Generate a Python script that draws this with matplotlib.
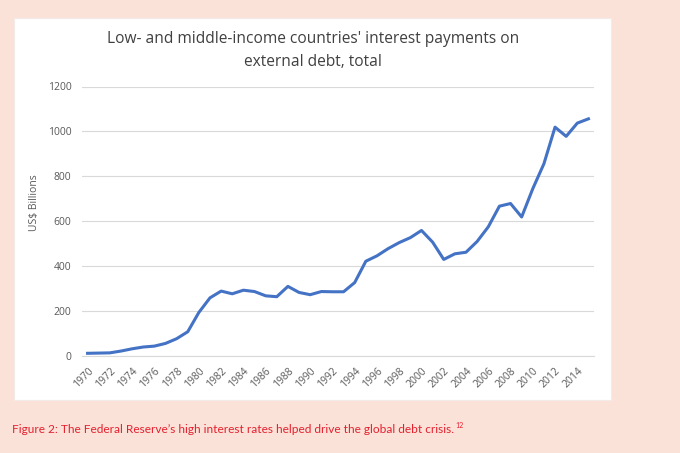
import matplotlib.pyplot as plt
from matplotlib.patches import Rectangle

# Datos (miles de millones de US$)
anios = list(range(1970, 2016))
pagos = [12, 13, 14, 22, 32, 40, 44, 56, 77, 108,
         194, 259, 289, 277, 293, 287, 268, 264, 310, 283,
         273, 287, 286, 286, 327, 422, 446, 478, 505, 527,
         559, 507, 430, 455, 462, 510, 575, 667, 679, 619,
         745, 856, 1019, 978, 1037, 1056]
etiquetas_y = [0, 200, 400, 600, 800, 1000, 1200]

titulo = "Low- and middle-income countries' interest payments on\nexternal debt, total"
pie = "Figure 2: The Federal Reserve\u2019s high interest rates helped drive the global debt crisis."

W, H = 680, 453
fig = plt.figure(figsize=(6.8, 4.53), dpi=100)
fig.patch.set_facecolor('#fbe2d8')

# caja blanca del grafico
fig.patches.append(Rectangle((14 / W, 1 - 400 / H), (611 - 14) / W, (400 - 18) / H,
                             transform=fig.transFigure, facecolor='white',
                             edgecolor='#f3ebe7', linewidth=0.8, zorder=-1))

ax = fig.add_axes([82 / W, 1 - 356 / H, (594 - 82) / W, (356 - 86.5) / H])
ax.set_zorder(1)
ax.set_facecolor('white')
x = list(range(len(anios)))
ax.plot(x, pagos, color='#4472c4', linewidth=2.2, solid_joinstyle='round', zorder=3)

ax.set_xlim(-0.5, len(anios) - 0.5)
ax.set_ylim(0, 1200)
ax.set_yticks(etiquetas_y)
ax.set_yticklabels([str(v) for v in etiquetas_y], fontsize=7.5, color='#595959', family='Open Sans')
ax.set_xticks(x[::2])
ax.set_xticklabels([str(a) for a in anios[::2]], rotation=45, ha='right', va='top',
                   rotation_mode='anchor', fontsize=7.5, color='#595959', family='Open Sans')
ax.tick_params(axis='y', length=0, pad=7.5)
ax.tick_params(axis='x', length=0, pad=7)
ax.grid(axis='y', color='#d9d9d9', linewidth=0.8)
ax.set_axisbelow(True)
for s in ['top', 'right', 'left']:
    ax.spines[s].set_visible(False)
ax.spines['bottom'].set_color('#d9d9d9')
ax.spines['bottom'].set_linewidth(0.8)

fig.text(313 / W, 1 - 50.5 / H, titulo, ha='center', va='center', fontsize=11.2,
         color='#404040', family='Open Sans', linespacing=1.55)
fig.text(34 / W, 1 - 203 / H, 'US$ Billions', rotation=90, ha='center', va='center',
         fontsize=7.5, color='#595959', family='Open Sans')

t = fig.text(12 / W, 1 - 433 / H, pie, ha='left', va='baseline', fontsize=8.6,
             color='#e5202e', family='Lato')
fig.canvas.draw()
bb = t.get_window_extent()
fig.text((bb.x1 + 1) / W, 1 - 428 / H, '12', ha='left', va='baseline', fontsize=5,
         color='#e5202e', family='Lato')

fig.savefig('out.png', dpi=100, facecolor=fig.get_facecolor())
